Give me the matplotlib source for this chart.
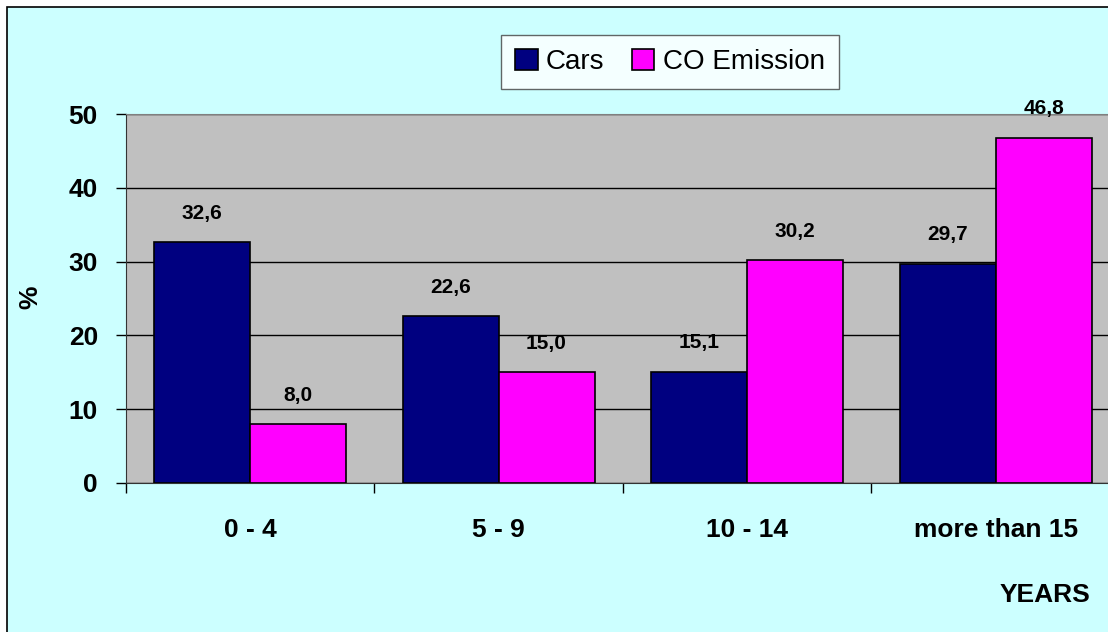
import matplotlib.pyplot as plt
import matplotlib.ticker as mticker
from matplotlib.patches import Rectangle
import numpy as np

plt.rcParams["font.family"] = ["Liberation Sans", "DejaVu Sans"]

categories = ["0 - 4", "5 - 9", "10 - 14", "more than 15"]
cars = [32.6, 22.6, 15.1, 29.7]
co_emission = [8.0, 15.0, 30.2, 46.8]
series_names = ["Cars", "CO Emission"]
colors = ["#000080", "#FF00FF"]


def main() -> None:
    fig = plt.figure(figsize=(11.08, 6.32), dpi=100, facecolor="white")

    # chart area (border starts a few px in, runs off the right/bottom edge)
    fig.patches.append(Rectangle((7 / 1108, -0.1), 1.2, 1 - 7 / 632 + 0.1,
                                 transform=fig.transFigure, facecolor="#CCFFFF",
                                 edgecolor="black", linewidth=1.2, zorder=-10))

    ax = fig.add_axes([125.7 / 1108, 1 - 483 / 632, 994.3 / 1108, 369 / 632])
    ax.set_facecolor("#C0C0C0")

    x = np.arange(len(categories))
    width = 0.386
    for i, (vals, name, col) in enumerate(zip([cars, co_emission], series_names, colors)):
        pos = x + (i - 0.5) * width
        ax.bar(pos, vals, width, color=col, edgecolor="black", linewidth=1.2,
               label=name, zorder=3)
        for px, v in zip(pos, vals):
            ax.annotate(f"{v:.1f}".replace(".", ","), (px, v), xytext=(0, 14),
                        textcoords="offset points", ha="center", va="bottom",
                        fontsize=15, fontweight="bold", zorder=4)

    ax.set_xlim(-0.5, len(categories) - 0.5)
    ax.set_ylim(0, 50)
    ax.yaxis.set_major_locator(mticker.MultipleLocator(10))
    ax.grid(axis="y", color="black", linewidth=1, zorder=1)

    ax.set_xticks(x)
    ax.set_xticklabels(categories, fontsize=19, fontweight="bold")
    ax.set_xticks(np.arange(len(categories) + 1) - 0.5, minor=True)
    ax.tick_params(axis="x", which="major", length=0, pad=25)
    ax.tick_params(axis="x", which="minor", length=7, width=1, direction="out")
    ax.tick_params(axis="y", length=7, width=1, direction="out", pad=13,
                   labelsize=19)
    for lbl in ax.get_yticklabels():
        lbl.set_fontweight("bold")

    for side in ["top", "right"]:
        ax.spines[side].set_color("#808080")
    ax.spines["left"].set_color("#333333")
    ax.spines["bottom"].set_color("#333333")

    fig.text(30 / 1108, 1 - 297 / 632, "%", rotation=90, ha="center", va="center",
             fontsize=19, fontweight="bold")
    fig.text(1090 / 1108, 1 - 595 / 632, "YEARS", ha="right", va="center",
             fontsize=19, fontweight="bold")

    leg = fig.legend(loc="center", bbox_to_anchor=(670 / 1108, 1 - 62 / 632),
                     ncol=2, fontsize=20, frameon=True, fancybox=False,
                     handlelength=0.8, handleheight=0.8, handletextpad=0.3,
                     columnspacing=1.0, borderpad=0.5, borderaxespad=0)
    leg.get_frame().set_edgecolor("#404040")
    leg.get_frame().set_linewidth(1)
    leg.get_frame().set_facecolor("white")

    fig.savefig("out.png", dpi=100)


if __name__ == "__main__":
    main()
